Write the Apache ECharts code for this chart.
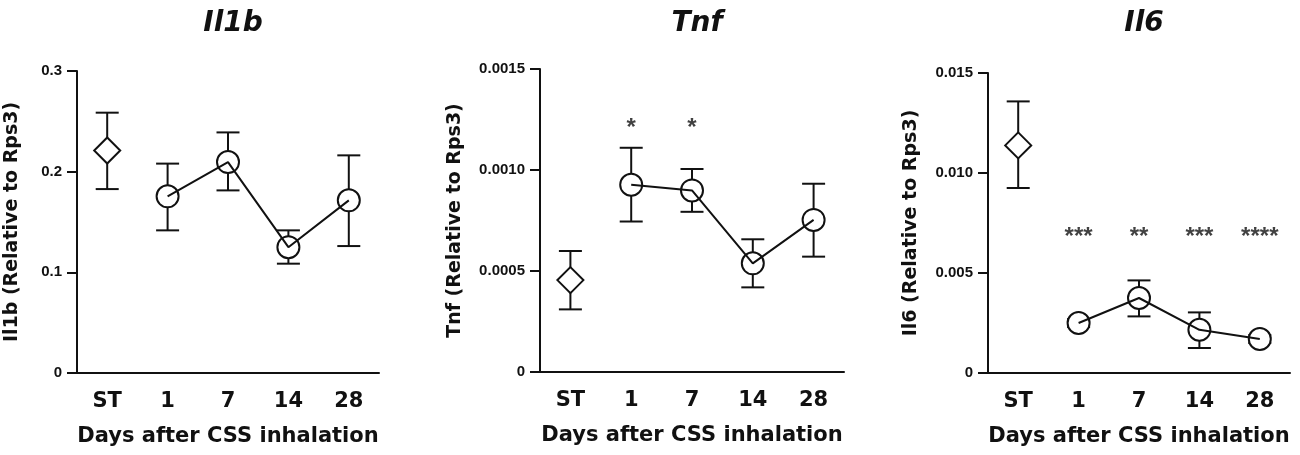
<!DOCTYPE html>
<html>
<head>
<meta charset="utf-8">
<script src="https://cdn.jsdelivr.net/npm/echarts@6/dist/echarts.min.js"></script>
<style>
html, body { margin: 0; background: #fff; }
#chart { width: 1300px; height: 455px; }
</style>
</head>
<body>
<div id="chart"></div>
<script>
const categories = ['ST', '1', '7', '14', '28'];
const xName = 'Days after CSS inhalation';

const il1bMean = [0.221, 0.1755, 0.2095, 0.125, 0.1715];
const il1bLow = [0.1827, 0.1417, 0.1814, 0.1086, 0.1261];
const il1bHigh = [0.2586, 0.208, 0.239, 0.1417, 0.2162];
const il1bTicks = ['0', '0.1', '0.2', '0.3'];

const tnfMean = [0.000455, 0.000927, 0.000899, 0.000538, 0.000753];
const tnfLow = [0.00031, 0.000745, 0.000793, 0.000419, 0.000571];
const tnfHigh = [0.000599, 0.00111, 0.001005, 0.000657, 0.000932];
const tnfTicks = ['0', '0.0005', '0.0010', '0.0015'];
const tnfSig = ['', '*', '*', '', ''];
const tnfSigY = 0.00123;

const il6Mean = [0.01138, 0.0025, 0.00375, 0.00216, 0.0017];
const il6Low = [0.00925, 0.0023, 0.00283, 0.00125, 0.0015];
const il6High = [0.01358, 0.0027, 0.00463, 0.00303, 0.0019];
const il6Ticks = ['0', '0.005', '0.010', '0.015'];
const il6Sig = ['', '***', '**', '***', '****'];
const il6SigY = 0.00703;

const ink = '#111';
const font = 'DejaVu Sans';

const panels = [
    {
        title: 'Il1b', yName: 'Il1b (Relative to Rps3)',
        mean: il1bMean, low: il1bLow, high: il1bHigh,
        max: 0.3, interval: 0.1, ticks: il1bTicks,
        sig: null, sigY: 0,
        grid: { left: 77, top: 71, width: 302, height: 302 },
        nameGap: 65,
    },
    {
        title: 'Tnf', yName: 'Tnf (Relative to Rps3)',
        mean: tnfMean, low: tnfLow, high: tnfHigh,
        max: 0.0015, interval: 0.0005, ticks: tnfTicks,
        sig: tnfSig, sigY: tnfSigY,
        grid: { left: 540, top: 69, width: 304, height: 303 },
        nameGap: 85,
    },
    {
        title: 'Il6', yName: 'Il6 (Relative to Rps3)',
        mean: il6Mean, low: il6Low, high: il6High,
        max: 0.015, interval: 0.005, ticks: il6Ticks,
        sig: il6Sig, sigY: il6SigY,
        grid: { left: 988, top: 73, width: 302, height: 300 },
        nameGap: 77,
    },
];

const grids = [];
const xAxes = [];
const yAxes = [];
const titles = [];
const series = [];

panels.forEach(function (p, i) {
    grids.push(p.grid);
    titles.push({
        text: p.title,
        left: p.grid.left + p.grid.width / 2,
        top: 5,
        textAlign: 'center',
        textStyle: {
            fontFamily: font,
            fontSize: 28,
            fontWeight: 'bold',
            fontStyle: 'italic',
            color: ink,
        },
    });
    xAxes.push({
        gridIndex: i,
        type: 'category',
        data: categories,
        boundaryGap: true,
        name: xName,
        nameLocation: 'middle',
        nameGap: 64,
        nameTextStyle: {
            fontFamily: font,
            fontSize: 21,
            fontWeight: 'bold',
            color: ink,
            verticalAlign: 'middle',
        },
        axisLine: { lineStyle: { color: ink, width: 2 } },
        axisTick: { alignWithLabel: true, length: 10, lineStyle: { color: ink, width: 2 } },
        axisLabel: {
            margin: 18,
            fontFamily: font,
            fontSize: 21,
            fontWeight: 'bold',
            color: ink,
        },
        splitLine: { show: false },
    });
    yAxes.push({
        gridIndex: i,
        type: 'value',
        min: 0,
        max: p.max,
        interval: p.interval,
        name: p.yName,
        nameLocation: 'middle',
        nameGap: p.nameGap,
        nameTextStyle: {
            fontFamily: font,
            fontSize: 19,
            fontWeight: 'bold',
            color: ink,
            verticalAlign: 'middle',
        },
        axisLine: { show: true, lineStyle: { color: ink, width: 2 } },
        axisTick: { show: true, length: 10, lineStyle: { color: ink, width: 2 } },
        axisLabel: {
            margin: 15,
            fontFamily: 'Liberation Sans',
            fontSize: 15,
            fontWeight: 'bold',
            color: ink,
            formatter: function (value) {
                return p.ticks[Math.round(value / p.interval)];
            },
        },
        splitLine: { show: false },
    });

    // error bars
    series.push({
        type: 'custom',
        xAxisIndex: i,
        yAxisIndex: i,
        z: 1,
        silent: true,
        encode: { x: 0, y: [1, 2] },
        data: categories.map(function (c, j) {
            return [j, p.low[j], p.high[j]];
        }),
        renderItem: function (params, api) {
            const lo = api.coord([api.value(0), api.value(1)]);
            const hi = api.coord([api.value(0), api.value(2)]);
            const x = lo[0];
            const w = 11.5;
            const style = { stroke: ink, lineWidth: 2, fill: null };
            return {
                type: 'group',
                children: [
                    { type: 'line', shape: { x1: x, y1: lo[1], x2: x, y2: hi[1] }, style: style },
                    { type: 'line', shape: { x1: x - w, y1: hi[1], x2: x + w, y2: hi[1] }, style: style },
                    { type: 'line', shape: { x1: x - w, y1: lo[1], x2: x + w, y2: lo[1] }, style: style },
                ],
            };
        },
    });

    // markers
    series.push({
        type: 'scatter',
        xAxisIndex: i,
        yAxisIndex: i,
        z: 2,
        silent: true,
        data: p.mean,
        symbol: function (value, params) {
            return params.dataIndex === 0 ? 'diamond' : 'circle';
        },
        symbolSize: function (value, params) {
            return params.dataIndex === 0 ? [26, 26] : 22;
        },
        itemStyle: { color: '#fff', borderColor: ink, borderWidth: 2, opacity: 1 },
    });

    // connecting line, days only
    series.push({
        type: 'line',
        xAxisIndex: i,
        yAxisIndex: i,
        z: 3,
        silent: true,
        showSymbol: false,
        data: p.mean.map(function (v, j) {
            return j === 0 ? '-' : v;
        }),
        lineStyle: { color: ink, width: 2 },
    });

    if (p.sig) {
        series.push({
            type: 'scatter',
            xAxisIndex: i,
            yAxisIndex: i,
            z: 4,
            silent: true,
            symbolSize: 0,
            data: p.sig.map(function (s) {
                return s ? p.sigY : '-';
            }),
            label: {
                show: true,
                position: 'inside',
                offset: [0, 5],
                fontFamily: 'Liberation Sans',
                fontSize: 24,
                fontWeight: 'bold',
                color: ink,
                formatter: function (params) {
                    return p.sig[params.dataIndex];
                },
            },
        });
    }
});

const myChart = echarts.init(document.getElementById('chart'));
const option = {
    animation: false,
    backgroundColor: '#fff',
    title: titles,
    grid: grids,
    xAxis: xAxes,
    yAxis: yAxes,
    series: series,
};
myChart.setOption(option);
window.addEventListener('resize', myChart.resize);
</script>
</body>
</html>
